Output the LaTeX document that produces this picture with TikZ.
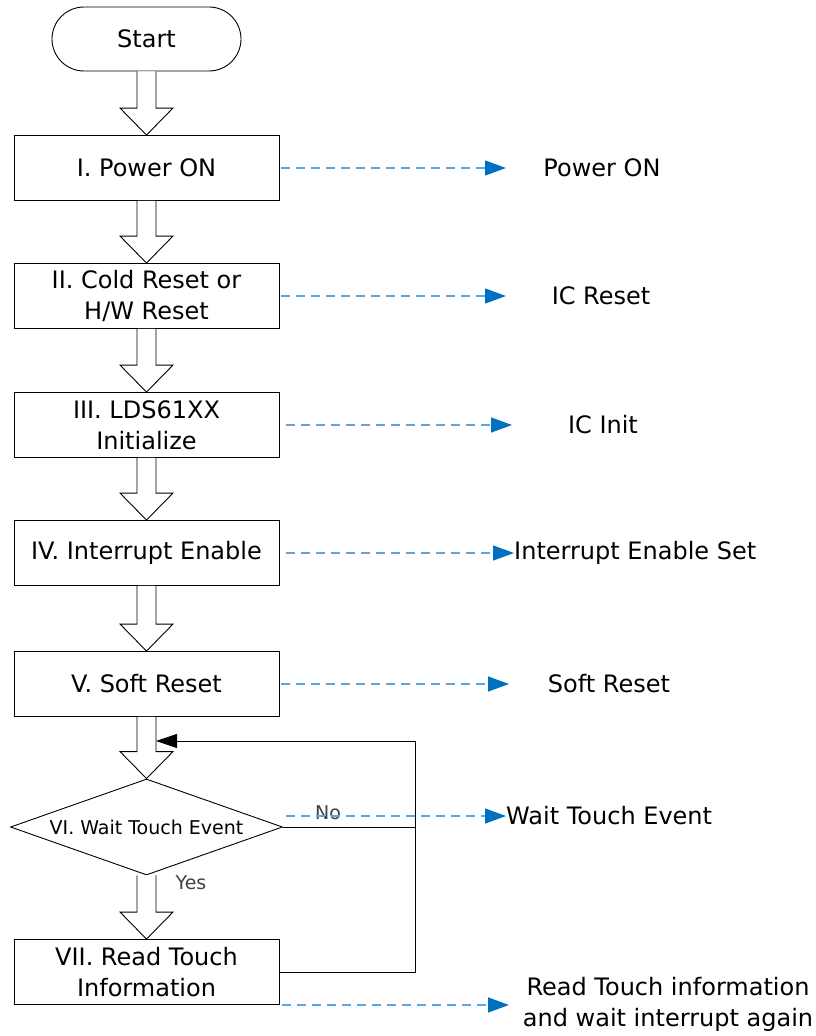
\documentclass[tikz,border=0pt]{standalone}
\usepackage{fontspec}
\setmainfont{DejaVu Sans}
\usetikzlibrary{arrows.meta,shapes.geometric,calc}
\definecolor{dashblue}{HTML}{5AA5E6}
\definecolor{tipblue}{HTML}{0070C0}
\newcommand\blockarr[2]{%
  \draw[blockarr] let \p1=(#1.south), \p2=(#2.north) in
    (\x1-9.5pt,\y1) -- (\x1-9.5pt,\y2+27pt) -- (\x1-26.5pt,\y2+27pt) -- (\x1,\y2)
    -- (\x1+26.5pt,\y2+27pt) -- (\x1+9.5pt,\y2+27pt) -- (\x1+9.5pt,\y1);}
\begin{document}
\begin{tikzpicture}[x=1pt,y=-1pt,
  box/.style={draw=black,line width=0.9pt,minimum width=265pt,minimum height=65pt,
    inner sep=0pt,font=\fontsize{24}{31}\selectfont,align=center},
  term/.style={draw=black,line width=0.9pt,rounded corners=32pt,minimum width=189pt,
    minimum height=64pt,inner sep=0pt,font=\fontsize{24}{31}\selectfont},
  decision/.style={draw=black,line width=0.9pt,diamond,aspect=2.83,minimum width=272pt,
    minimum height=96pt,inner sep=0pt,font=\fontsize{19}{23}\selectfont},
  lbl/.style={font=\fontsize{24}{31}\selectfont,align=center,inner sep=0pt},
  small/.style={font=\fontsize{19}{23}\selectfont,text=black!75,inner sep=0pt},
  blockarr/.style={draw=black,line width=0.9pt,fill=white,line join=miter},
  line/.style={draw=black,line width=0.9pt},
  dasharr/.style={draw=dashblue,line width=1.3pt,dash pattern=on 9pt off 6pt,
    -{Triangle[length=21pt,width=15pt,color=tipblue]}},
]
\path[use as bounding box] (0,0) rectangle (815,1036);

\node[term] (start) at (146.5,39) {Start};
\node[box] (i) at (146.5,168) {I. Power ON};
\node[box] (ii) at (146.5,296) {II. Cold Reset or\\H/W Reset};
\node[box] (iii) at (146.5,425) {III. LDS61XX\\Initialize};
\node[box] (iv) at (146.5,553) {IV. Interrupt Enable};
\node[box] (v) at (146.5,684) {V. Soft Reset};
\node[decision] (vi) at (146.5,827) {VI. Wait Touch Event};
\node[box] (vii) at (146.5,972) {VII. Read Touch\\Information};

\blockarr{start}{i}
\blockarr{i}{ii}
\blockarr{ii}{iii}
\blockarr{iii}{iv}
\blockarr{iv}{v}
\blockarr{v}{vi}
\blockarr{vi}{vii}

\node[small] (no) at (328,813) {No};
\node[small] (yes) at (191,883) {Yes};

% right-hand labels
\node[lbl] (l1) at (602,168) {Power ON};
\node[lbl] (l2) at (601,296) {IC Reset};
\node[lbl] (l3) at (603,425) {IC Init};
\node[lbl,anchor=west] (l4) at (514,553) {Interrupt Enable Set};
\node[lbl] (l5) at (609,684) {Soft Reset};
\node[lbl,anchor=west] (l6) at (506,816) {Wait Touch Event};
\node[lbl] (l7) at (668,1004) {Read Touch information\\and wait interrupt again};

\coordinate (tipa) at (506,0);
\coordinate (tipb) at (512,0);
\coordinate (tipc) at (509,0);

% loop
\coordinate (rail) at (415,741);
\coordinate (loopin) at (156,741);
\draw[line,-{Triangle[length=21pt,width=14pt]}] (vii.east) -| (rail) -- (loopin);
\draw[line] (vi.east) -- (vi.east -| rail);

% dashed arrows
\draw[dasharr,shorten <=2pt] (i.east) -- (i.east -| tipa);
\draw[dasharr,shorten <=2pt] (ii.east) -- (ii.east -| tipa);
\draw[dasharr,shorten <=7pt] (iii.east) -- (iii.east -| tipb);
\draw[dasharr,shorten <=7pt] (iv.east) -- (l4.west);
\draw[dasharr,shorten <=2pt] (v.east) -- (v.east -| tipc);
\draw[dasharr,shorten <=3pt] ($(vi.east)+(0,-11)$) -- (l6.west);
\draw[dasharr,shorten <=3pt] (vii.south east) -- (vii.south east -| tipc);
\end{tikzpicture}
\end{document}
